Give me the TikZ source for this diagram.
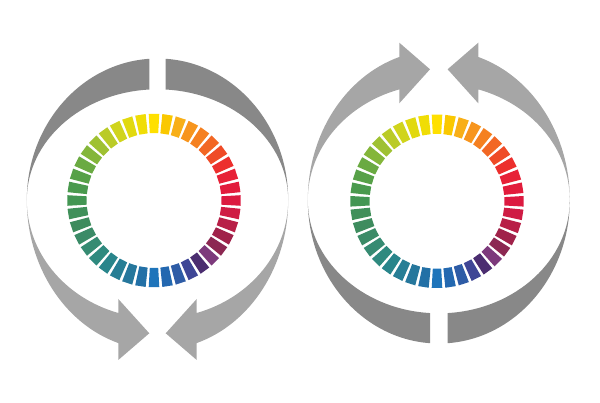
\documentclass[tikz,border=0pt]{standalone}
\usepackage{xcolor}
\usepackage{tikz}

\definecolor{bandDark}{HTML}{888888}
\definecolor{bandLight}{HTML}{A6A6A6}

\begin{document}
\begin{tikzpicture}[
    x=1pt, y=1pt,
    darkband/.style={fill=bandDark},
    lightband/.style={fill=bandLight},
    tick/.style={fill=segcol}
]
\useasboundingbox (0,0) rectangle (600,403);

% colour wheels, 40 ticks each, clockwise from the top
\foreach \cx/\cy in {154/202.5, 437/201.7}
  \foreach \hex [count=\k from 0] in {FFE000,FAC800,F8AF18,F7951E,F58020,F26724,EF4B27,EC2F2D,E72137,E21C3C,
      DC1A40,CF1C44,B81F47,A0224A,8C2852,7D3A7C,4B2D70,3F4696,2E5CA6,2368B0,
      1E74BA,2270A6,26779C,277E95,29858B,2F8A7F,368B72,3B8B67,3E8C5E,40905A,
      439653,4A9A4E,57A148,6AAA42,84B63A,9FC132,BACB27,D0D41C,E1D90F,F0DD05}{
    \edef\setcol{\noexpand\definecolor{segcol}{HTML}{\hex}}\setcol
    \fill[tick, shift={(\cx,\cy)}, rotate=90-9*\k] (67.3,-4.2) -- (86.7,-5.3) -- (86.7,5.3) -- (67.3,4.2) -- cycle;
  }

% left cycle: flat ends on top, heads at the bottom
\fill[darkband] (149.3,344.2) arc[start angle=93.6, end angle=180, x radius=130.7, y radius=141.5]
    arc[start angle=180, end angle=93.6, x radius=130.7, y radius=110.7] -- cycle;
\fill[darkband] (165.7,344.2) arc[start angle=86.4, end angle=0, x radius=130.7, y radius=141.5]
    arc[start angle=0, end angle=86.4, x radius=130.7, y radius=110.7] -- cycle;
\fill[lightband] (26.8,203) arc[start angle=180, end angle=252.55, x radius=130.7, y radius=150]
    -- (118.3,43) -- (149.3,69.7) -- (118.3,104) -- (118.3,90)
    arc[start angle=252.55, end angle=180, x radius=130.7, y radius=118.5] -- cycle;
\fill[lightband] (288.2,203) arc[start angle=0, end angle=-72.55, x radius=130.7, y radius=150]
    -- (196.7,43) -- (165.7,69.7) -- (196.7,104) -- (196.7,90)
    arc[start angle=-72.55, end angle=0, x radius=130.7, y radius=118.5] -- cycle;

% right cycle: heads on top, flat ends at the bottom
\fill[darkband] (430,59.8) arc[start angle=266.15, end angle=180, x radius=131, y radius=143.5]
    arc[start angle=180, end angle=266.15, x radius=131, y radius=113.3] -- cycle;
\fill[darkband] (447.6,59.8) arc[start angle=-86.15, end angle=0, x radius=131, y radius=143.5]
    arc[start angle=0, end angle=-86.15, x radius=131, y radius=113.3] -- cycle;
\fill[lightband] (307.8,203) arc[start angle=180, end angle=107.55, x radius=131, y radius=150]
    -- (399.3,360.3) -- (430,333.7) -- (399.3,299.7) -- (399.3,313.6)
    arc[start angle=107.55, end angle=180, x radius=131, y radius=116] -- cycle;
\fill[lightband] (569.8,203) arc[start angle=0, end angle=72.45, x radius=131, y radius=150]
    -- (478.3,360.3) -- (447.6,333.7) -- (478.3,299.7) -- (478.3,313.6)
    arc[start angle=72.45, end angle=0, x radius=131, y radius=116] -- cycle;
\end{tikzpicture}
\end{document}
